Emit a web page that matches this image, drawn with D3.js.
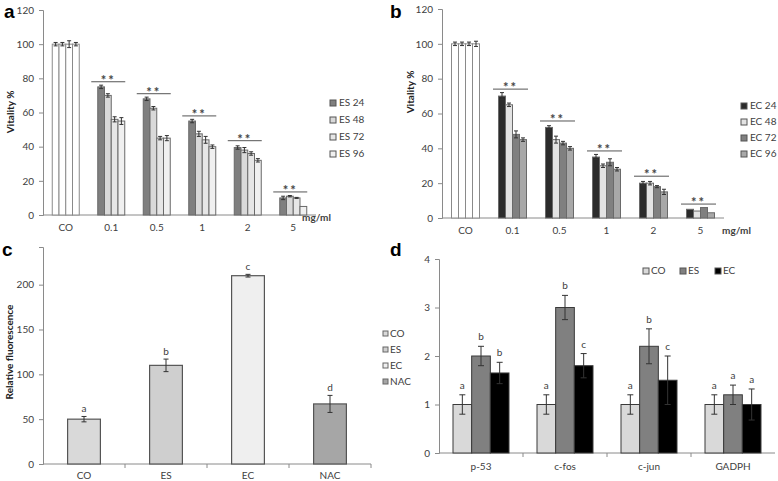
<!DOCTYPE html>
<html><head><meta charset="utf-8">
<script src="https://cdn.jsdelivr.net/npm/d3@7"></script>
<style>
body{margin:0;background:#fff;}
text{font-family:Lato,"Open Sans",sans-serif;}
</style></head>
<body><svg id="chart" width="778" height="481"></svg>
<script>
// ---------- Panel a data ----------
const vitCats = ["CO","0.1","0.5","1","2","5"];
const esSeries = ["ES 24","ES 48","ES 72","ES 96"];
const es24 = [100,75,68,55,39.5,10];
const es48 = [100,70,62.5,47.5,38,11];
const es72 = [100,56,45,44,36,10];
const es96 = [100,55,45,40,32,5];
const es24Err = [1,1,1,1,1,1];
const es48Err = [1,1,1,1.5,1.5,0.4];
const es72Err = [2,1.5,1,2,1,0.3];
const es96Err = [1,2,1.5,1,1,0];
const esSig = [null,78,71,58,43.5,13.5];
const esColors = ["#7f7f7f","#d9d9d9","#e6e6e6","#f0f0f0"];
// ---------- Panel b data ----------
const ecSeries = ["EC 24","EC 48","EC 72","EC 96"];
const ec24 = [100,70,52,35,20,5];
const ec48 = [100,65,45,30,20,4];
const ec72 = [100,48,43,32,18,6];
const ec96 = [100,45,40,28,15,3];
const ec24Err = [1,2,1,1.5,1,0];
const ec48Err = [1,1,2,1,1,0];
const ec72Err = [1,2,1,2,0.6,0];
const ec96Err = [1.5,1,1,1,1.5,0];
const ecSig = [null,74,55.7,38.5,24,8];
const ecColors = ["#2b2b2b","#e3e3e3","#808080","#a8a8a8"];
const vitTicks = [0,20,40,60,80,100,120];
// ---------- Panel c data ----------
const rosCats = ["CO","ES","EC","NAC"];
const rosVals = [50,110,210,67];
const rosErr = [3,7,1.5,9.5];
const rosLetters = ["a","b","c","d"];
const rosColors = ["#d9d9d9","#cfcfcf","#efefef","#a6a6a6"];
const rosTicks = [0,50,100,150,200];
// ---------- Panel d data ----------
const geneCats = ["p-53","c-fos","c-jun","GADPH"];
const geneSeries = ["CO","ES","EC"];
const geneCO = [1,1,1,1];
const geneES = [2,3,2.2,1.2];
const geneEC = [1.65,1.8,1.5,1];
const geneCOErr = [0.2,0.2,0.2,0.2];
const geneESErr = [0.2,0.25,0.36,0.2];
const geneECErr = [0.22,0.25,0.5,0.32];
const geneCOLet = ["a","a","a","a"];
const geneESLet = ["b","b","b","a"];
const geneECLet = ["b","c","c","a"];
const geneColors = ["#d9d9d9","#808080","#000000"];
const geneTicks = [0,1,2,3,4];

const svg = d3.select("#chart");
const AX = "#8a8a8a", TXT = "#404040", EDGE = "#555";

function styleAxis(g){
  g.selectAll("path,line").attr("stroke",AX);
  g.selectAll("text").attr("fill",TXT).style("font-size","10px").style("font-family","Lato,'Open Sans',sans-serif");
}
function errBar(g, cx, y0, y1, half, color){
  g.append("line").attr("x1",cx).attr("x2",cx).attr("y1",y0).attr("y2",y1).attr("stroke",color).attr("stroke-width",1);
  g.append("line").attr("x1",cx-half).attr("x2",cx+half).attr("y1",y0).attr("y2",y0).attr("stroke",color);
  g.append("line").attr("x1",cx-half).attr("x2",cx+half).attr("y1",y1).attr("y2",y1).attr("stroke",color);
}
function panelLabel(t,x,y){
  svg.append("text").attr("x",x).attr("y",y).text(t)
    .style("font-family","Arial,'Liberation Sans',sans-serif").style("font-weight","bold").style("font-size","19px").attr("fill","#000");
}

// ---------- vitality panels ----------
function vitPanel(o){
  const g = svg.append("g");
  const y = d3.scaleLinear().domain([0,120]).range([o.y0,o.y1]);
  const x = d3.scaleBand().domain(vitCats).range([o.xl,o.xr]);
  const x1 = d3.scaleBand().domain(o.series).range([-o.gw/2,o.gw/2]);
  const ya = g.append("g").attr("transform",`translate(${o.xl},0)`)
    .call(d3.axisLeft(y).tickValues(vitTicks).tickSize(4).tickPadding(5));
  styleAxis(ya);
  const xa = g.append("g").attr("transform",`translate(0,${o.y0})`)
    .call(d3.axisBottom(x).tickSize(0).tickPadding(9));
  xa.select(".domain").attr("d",`M${o.xl},0H${o.xr}`);
  styleAxis(xa);
  o.series.forEach((s,si)=>{
    vitCats.forEach((c,ci)=>{
      const v=o.vals[si][ci], e=o.errs[si][ci];
      const bx = x(c)+x.bandwidth()/2 + x1(s);
      g.append("rect").attr("x",bx).attr("y",y(v)).attr("width",x1.bandwidth()).attr("height",o.y0-y(v))
        .attr("fill", ci===0 ? "#fff" : o.colors[si]).attr("stroke", ci===0 ? "#8a8a8a" : "#6a6a6a").attr("stroke-width",1);
      if(e>0) errBar(g, bx+x1.bandwidth()/2, y(v+e), y(v-e), 2, "#333");
    });
  });
  vitCats.forEach((c,ci)=>{
    const lv=o.sig[ci]; if(lv==null) return;
    const cx=x(c)+x.bandwidth()/2 + o.sigShift;
    g.append("line").attr("x1",cx-o.sigW/2).attr("x2",cx+o.sigW/2).attr("y1",y(lv)).attr("y2",y(lv)).attr("stroke","#555");
    g.append("text").attr("x",cx).attr("y",y(lv)+3).attr("text-anchor","middle").text("**")
      .style("font-size","13px").style("font-weight","bold").style("letter-spacing","2px").attr("fill","#444");
  });
  g.append("text").attr("x",o.mgX).attr("y",o.mgY).text("mg/ml").style("font-size","10px").style("font-weight","bold").attr("fill",TXT);
  g.append("text").attr("transform",`translate(${o.ytX},${o.ytY}) rotate(-90)`).attr("text-anchor","middle")
    .text("Vitality %").style("font-size","10px").style("font-weight","bold").attr("fill","#222");
  o.series.forEach((s,si)=>{
    const ly=o.legY+si*o.legDy;
    g.append("rect").attr("x",o.legX).attr("y",ly-6).attr("width",6).attr("height",6).attr("fill",o.colors[si]).attr("stroke","#555");
    g.append("text").attr("x",o.legX+9).attr("y",ly).text(s).style("font-size","10px").attr("fill",TXT);
  });
}
vitPanel({series:esSeries, vals:[es24,es48,es72,es96], errs:[es24Err,es48Err,es72Err,es96Err], sig:esSig, colors:esColors,
  xl:43, xr:316, y0:215, y1:10, gw:27, sigW:34, sigShift:-3, mgX:302, mgY:221, ytX:14, ytY:112, legX:330, legY:106, legDy:17});
vitPanel({series:ecSeries, vals:[ec24,ec48,ec72,ec96], errs:[ec24Err,ec48Err,ec72Err,ec96Err], sig:ecSig, colors:ecColors,
  xl:442, xr:724, y0:218, y1:9, gw:28, sigW:35, sigShift:-2, mgX:722, mgY:234, ytX:414, ytY:92, legX:741, legY:109, legDy:16});
panelLabel("a",4,18);
panelLabel("b",390,18);

// ---------- Panel c ----------
(function(){
  const g = svg.append("g");
  const y = d3.scaleLinear().domain([0,242]).range([464,247]);
  const x = d3.scaleBand().domain(rosCats).range([43,371]);
  const ya = g.append("g").attr("transform","translate(43,0)")
    .call(d3.axisLeft(y).tickValues(rosTicks).tickSize(4).tickPadding(5));
  styleAxis(ya);
  const xa = g.append("g").attr("transform","translate(0,464)").call(d3.axisBottom(x).tickSize(0).tickPadding(8));
  styleAxis(xa);
  xa.select(".domain").attr("d","M43,0H371");
  rosCats.slice(1).forEach(c=>{
    g.append("line").attr("x1",x(c)).attr("x2",x(c)).attr("y1",464).attr("y2",468).attr("stroke",AX);
  });
  g.append("line").attr("x1",371).attr("x2",371).attr("y1",464).attr("y2",468).attr("stroke",AX);
  rosCats.forEach((c,i)=>{
    const w=x.bandwidth()*0.4, bx=x(c)+(x.bandwidth()-w)/2, v=rosVals[i], e=rosErr[i];
    g.append("rect").attr("x",bx).attr("y",y(v)).attr("width",w).attr("height",464-y(v))
      .attr("fill",rosColors[i]).attr("stroke",EDGE).attr("stroke-width",1.2);
    errBar(g,bx+w/2,y(v+e),y(v-e),2.5,"#333");
    g.append("text").attr("x",bx+w/2).attr("y",y(v+e)-4).attr("text-anchor","middle").text(rosLetters[i])
      .style("font-size","10px").attr("fill",TXT);
  });
  g.append("text").attr("transform","translate(13,352) rotate(-90)").attr("text-anchor","middle")
    .text("Relative fluorescence").style("font-size","10px").style("font-weight","bold").attr("fill","#222");
  rosCats.forEach((c,i)=>{
    const ly=337+i*16;
    g.append("rect").attr("x",383).attr("y",ly-6).attr("width",5).attr("height",5).attr("fill",rosColors[i]).attr("stroke","#666");
    g.append("text").attr("x",390).attr("y",ly).text(c).style("font-size","10px").attr("fill",TXT);
  });
  panelLabel("c",2,256);
})();

// ---------- Panel d ----------
(function(){
  const g = svg.append("g");
  const y = d3.scaleLinear().domain([0,4]).range([453,259]);
  const x = d3.scaleBand().domain(geneCats).range([439,775]);
  const gw = x.bandwidth()*2/3;
  const x1 = d3.scaleBand().domain(geneSeries).range([-gw/2,gw/2]);
  const ya = g.append("g").attr("transform","translate(439,0)")
    .call(d3.axisLeft(y).tickValues(geneTicks).tickFormat(d3.format("d")).tickSize(4).tickPadding(5));
  styleAxis(ya);
  const xa = g.append("g").attr("transform","translate(0,453)").call(d3.axisBottom(x).tickSize(0).tickPadding(10));
  styleAxis(xa);
  xa.select(".domain").attr("d","M439,0H775");
  geneCats.slice(1).forEach(c=>{
    g.append("line").attr("x1",x(c)).attr("x2",x(c)).attr("y1",453).attr("y2",457).attr("stroke",AX);
  });
  const vals=[geneCO,geneES,geneEC], errs=[geneCOErr,geneESErr,geneECErr], lets=[geneCOLet,geneESLet,geneECLet];
  geneSeries.forEach((s,si)=>{
    geneCats.forEach((c,ci)=>{
      const v=vals[si][ci], e=errs[si][ci];
      const bx=x(c)+x.bandwidth()/2+x1(s), w=x1.bandwidth();
      g.append("rect").attr("x",bx).attr("y",y(v)).attr("width",w).attr("height",453-y(v))
        .attr("fill",geneColors[si]).attr("stroke","#3a3a3a").attr("stroke-width",1);
      errBar(g,bx+w/2,y(v+e),y(v-e),3,"#333");
      g.append("text").attr("x",bx+w/2).attr("y",y(v+e)-6).attr("text-anchor","middle").text(lets[si][ci])
        .style("font-size","10px").attr("fill",TXT);
    });
  });
  const legX=[643,680,715];
  geneSeries.forEach((s,si)=>{
    g.append("rect").attr("x",legX[si]).attr("y",268).attr("width",6).attr("height",6).attr("fill",geneColors[si]).attr("stroke","#555");
    g.append("text").attr("x",legX[si]+8).attr("y",274).text(s).style("font-size","10px").attr("fill",TXT);
  });
  panelLabel("d",390,256);
})();
</script></body></html>
